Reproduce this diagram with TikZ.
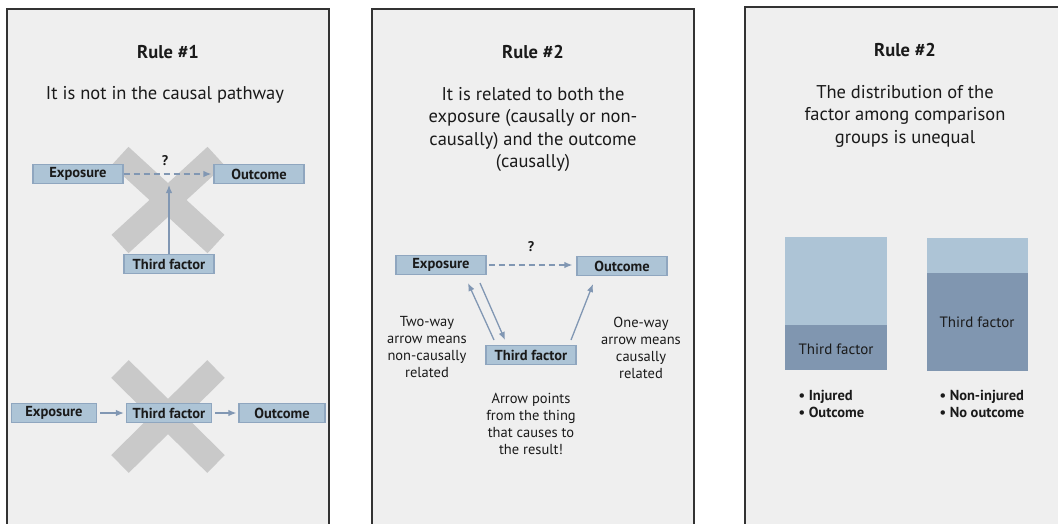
\documentclass[tikz,border=0pt]{standalone}
\usepackage{fontspec}
\setmainfont{PT Sans}
\usetikzlibrary{arrows.meta}
\definecolor{panelbg}{HTML}{EFEFEF}
\definecolor{panelline}{HTML}{333333}
\definecolor{boxfill}{HTML}{ADC4D6}
\definecolor{boxline}{HTML}{8FA6BF}
\definecolor{arrowc}{HTML}{8197B3}
\definecolor{darkbar}{HTML}{8096B0}
\definecolor{xgray}{HTML}{C9C9C9}
\definecolor{textc}{HTML}{1A1A1A}
\tikzset{
 panel/.style={fill=panelbg, draw=panelline, line width=2.5pt},
 varbox/.style={fill=boxfill, draw=boxline, line width=1.2pt, minimum width=90pt, minimum height=19pt, inner sep=0pt, text=textc, font=\fontsize{14.5}{16}\selectfont\bfseries},
 conn/.style={draw=arrowc, line width=1.3pt, -{Latex[length=8pt,width=6.5pt]}},
 dconn/.style={conn, dash pattern=on 6pt off 4pt},
 bigx/.style={draw=xgray, line width=25pt},
 title/.style={text=textc, font=\fontsize{18.5}{20}\selectfont\bfseries},
 sub/.style={text=textc, font=\fontsize{18.5}{22.5}\selectfont, align=center},
 note/.style={text=textc, font=\fontsize{14.5}{17}\selectfont, align=center},
 qmark/.style={text=textc, font=\fontsize{14}{15}\selectfont\bfseries},
 barlabel/.style={text=textc, font=\fontsize{15}{16}\selectfont},
 bullets/.style={text=textc, font=\fontsize{14.5}{17}\selectfont\bfseries, align=left, anchor=west},
}
\begin{document}
\begin{tikzpicture}[x=1pt,y=-1pt]
\useasboundingbox (0,0) rectangle (1058,523);
\clip (0,0) rectangle (1058,523);
% panels
\draw[panel] (7,9) rectangle (329,540);
\draw[panel] (372,9) rectangle (694,540);
\draw[panel] (745,7) rectangle (1070,540);

% ---------- Panel 1
\node[title] (t1) at (168,52) {Rule \#1};
\node[sub] (s1) at (165,95) {It is not in the causal pathway};
\draw[bigx] (120,156) -- (216,244);
\draw[bigx] (216,156) -- (120,244);
\node[varbox] (e1) at (78,174) {Exposure};
\node[varbox] (o1) at (259,174) {Outcome};
\node[varbox] (f1) at (169,264) {Third factor};
\node[qmark] (q1) at (165,161) {?};
\draw[dconn, shorten >=2pt] (e1) -- (o1);
\coordinate (c1) at (169,185);
\draw[conn] (f1) -- (c1);

\draw[bigx] (120,369) -- (216,464);
\draw[bigx] (216,369) -- (120,464);
\node[varbox, minimum width=85pt] (e1b) at (54,413) {Exposure};
\node[varbox, minimum width=85pt] (f1b) at (169,413) {Third factor};
\node[varbox, minimum width=86pt] (o1b) at (282,413) {Outcome};
\draw[conn, shorten <=3pt, shorten >=2pt] (e1b) -- (f1b);
\draw[conn, shorten <=3pt, shorten >=2pt] (f1b) -- (o1b);

% ---------- Panel 2
\node[title] (t2) at (533,52) {Rule \#2};
\node[sub] (s2) at (533,129.5) {It is related to both the\\exposure (causally or non-\\causally) and the outcome\\(causally)};
\node[varbox] (e2) at (441,265) {Exposure};
\node[varbox] (o2) at (622,266) {Outcome};
\node[varbox] (f2) at (531,355) {Third factor};
\node[qmark] (q2) at (531,247) {?};
\draw[dconn, shorten <=2pt, shorten >=4pt] (e2.east) -- (e2.east -| o2.west);
\coordinate (a1s) at (494,340);
\coordinate (a1e) at (468,283);
\coordinate (a2s) at (480,283);
\coordinate (a2e) at (505,340);
\coordinate (a3s) at (571,340);
\coordinate (a3e) at (593,284);
\draw[conn] (a1s) -- (a1e);
\draw[conn] (a2s) -- (a2e);
\draw[conn] (a3s) -- (a3e);
\node[note] (n2l) at (427,347.5) {Two-way\\arrow means\\non-causally\\related};
\node[note] (n2r) at (641,347.5) {One-way\\arrow means\\causally\\related};
\node[note] (n2b) at (531,423.5) {Arrow points\\from the thing\\that causes to\\the result!};

% ---------- Panel 3
\node[title] (t3) at (905,50) {Rule \#2};
\node[sub] (s3) at (905,116) {The distribution of the\\factor among comparison\\groups is unequal};
\fill[boxfill] (785,237) rectangle (887,325);
\fill[darkbar] (785,325) rectangle (887,370);
\node[barlabel] (b1) at (836,349) {Third factor};
\fill[boxfill] (927,238) rectangle (1028,273);
\fill[darkbar] (927,273) rectangle (1028,371);
\node[barlabel] (b2) at (977,322) {Third factor};
\node[bullets] (l1) at (795,403.5) {\textbullet\ Injured\\\textbullet\ Outcome};
\node[bullets] (l2) at (936,403.5) {\textbullet\ Non-injured\\\textbullet\ No outcome};
\end{tikzpicture}
\end{document}
